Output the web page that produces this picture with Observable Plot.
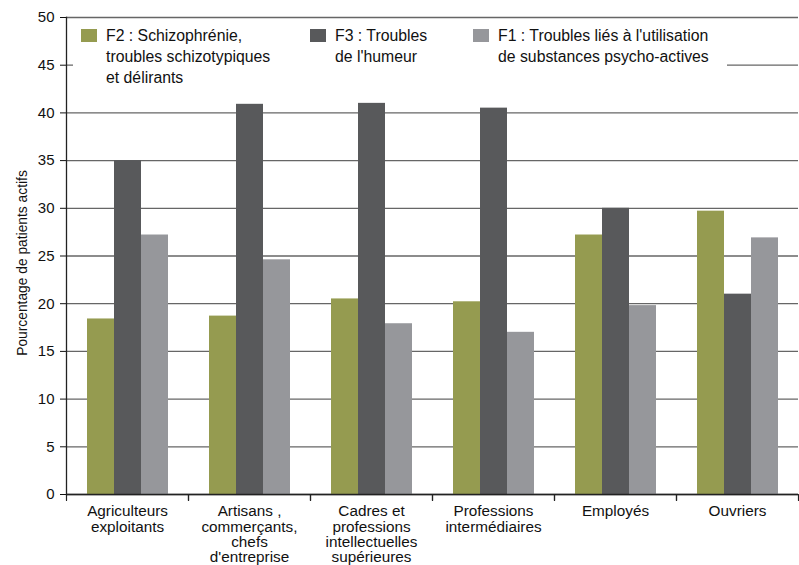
<!DOCTYPE html>
<html>
<head>
<meta charset="utf-8">
<script src="https://cdn.jsdelivr.net/npm/d3@7"></script>
<script src="https://cdn.jsdelivr.net/npm/@observablehq/plot@0.6"></script>
<style>
  body { margin: 0; background: #fff; }
  #wrap { position: relative; width: 799px; height: 565px; }
  #legend { position: absolute; left: 73px; top: 20px; width: 654px; height: 80px; background: #fff;
    font-family: "Liberation Sans", Arial, sans-serif; font-size: 15.8px; line-height: 21px; color: #111; }
  .item { position: absolute; top: 8px; }
  .sw { position: absolute; top: 1px; width: 16px; height: 13px; }
  .txt { position: absolute; left: 25px; top: -3px; white-space: nowrap; }
</style>
</head>
<body>
<div id="wrap"></div>
<script>
const categories = ["Agriculteurs exploitants", "Artisans , commerçants, chefs d'entreprise", "Cadres et professions intellectuelles supérieures", "Professions intermédiaires", "Employés", "Ouvriers"];
const categoryLabels = ["Agriculteurs\nexploitants", "Artisans ,\ncommerçants,\nchefs\nd'entreprise", "Cadres et\nprofessions\nintellectuelles\nsupérieures", "Professions\nintermédiaires", "Employés", "Ouvriers"];
const seriesKeys = ["F2", "F3", "F1"];
const seriesLabels = [
  ["F2 : Schizophrénie,", "troubles schizotypiques", "et délirants"],
  ["F3 : Troubles", "de l'humeur"],
  ["F1 : Troubles liés à l'utilisation", "de substances psycho-actives"]
];
const seriesColors = ["#959b50", "#58595b", "#96979b"];
const f2Values = [18.4, 18.7, 20.5, 20.2, 27.2, 29.7];
const f3Values = [35.0, 40.9, 41.0, 40.5, 30.0, 21.0];
const f1Values = [27.2, 24.6, 17.9, 17.0, 19.8, 26.9];
const yTicks = [0, 5, 10, 15, 20, 25, 30, 35, 40, 45, 50];
const yLabel = "Pourcentage de patients actifs";

const valuesBySeries = {F2: f2Values, F3: f3Values, F1: f1Values};
const rows = [];
categories.forEach((c, i) => {
  seriesKeys.forEach(s => rows.push({category: c, series: s, value: valuesBySeries[s][i]}));
});

const sans = "'Liberation Sans', Arial, sans-serif";

const chart = Plot.plot({
  width: 799,
  height: 565,
  marginLeft: 64,
  marginRight: 0,
  marginTop: 17,
  marginBottom: 71,
  style: {fontFamily: sans, fontSize: "15px", color: "#111", background: "#fff"},
  fx: {domain: categories, padding: 0},
  x: {domain: seriesKeys, paddingInner: 0, paddingOuter: 0.74, axis: null},
  y: {domain: [0, 50], ticks: yTicks, tickSize: 6, tickPadding: 6, label: null},
  color: {domain: seriesKeys, range: seriesColors},
  marks: [
    Plot.gridY(yTicks, {stroke: "#666", strokeOpacity: 1, strokeWidth: 1.3}),
    Plot.barY(rows, {fx: "category", x: "series", y: "value", fill: "series"}),
    Plot.ruleY([0], {stroke: "#222", strokeWidth: 1.3}),
    Plot.frame({anchor: "left", facet: "super", stroke: "#222", strokeWidth: 1.3}),
    Plot.vector([0], {frameAnchor: "bottom-left", length: 6, rotate: 180, anchor: "start", r: 0, stroke: "#222", strokeWidth: 1.2}),
    Plot.vector([0], {frameAnchor: "bottom-right", length: 6, rotate: 180, anchor: "start", r: 0, stroke: "#222", strokeWidth: 1.2}),
    Plot.axisFx({anchor: "bottom", tickSize: 0, tickPadding: 11, label: null, tickFormat: d => categoryLabels[categories.indexOf(d)], fontSize: 15.3, lineHeight: 1.0}),
    Plot.text([yLabel], {facet: "super", frameAnchor: "left", textAnchor: "middle", rotate: -90, dx: -44, dy: 7, fontSize: 13.8, fill: "#111", text: d => d})
  ]
});

const wrap = document.getElementById("wrap");
wrap.appendChild(chart);

const legend = document.createElement("div");
legend.id = "legend";
const itemX = [8, 237, 400];
seriesKeys.forEach((s, i) => {
  const item = document.createElement("div");
  item.className = "item";
  item.style.left = itemX[i] + "px";
  const sw = document.createElement("div");
  sw.className = "sw";
  sw.style.background = seriesColors[i];
  const txt = document.createElement("div");
  txt.className = "txt";
  txt.innerHTML = seriesLabels[i].join("<br>");
  item.appendChild(sw);
  item.appendChild(txt);
  legend.appendChild(item);
});
wrap.appendChild(legend);
</script>
</body>
</html>
